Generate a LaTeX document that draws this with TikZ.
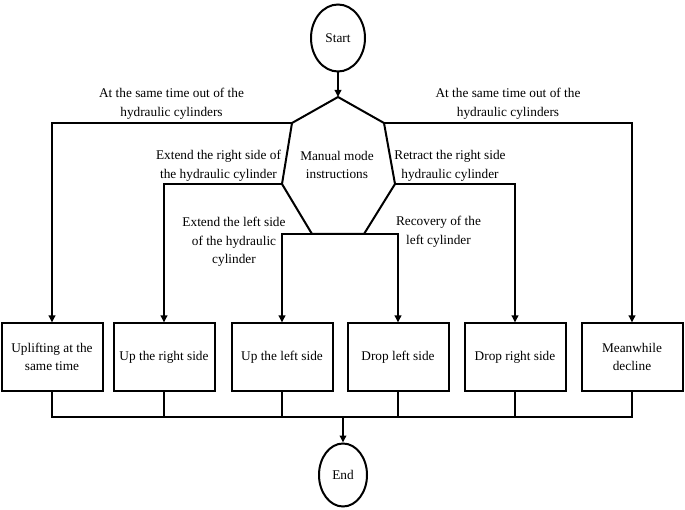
\documentclass[tikz,border=0pt]{standalone}
\usepackage{fontspec}
\setmainfont{Liberation Serif}
\usetikzlibrary{arrows.meta,shapes.geometric}
\begin{document}
\begin{tikzpicture}[x=1pt,y=-1pt,line width=2pt,
  font=\fontsize{13.3}{18.5}\selectfont,
  box/.style={draw,minimum width=101pt,minimum height=67pt,align=center,inner sep=2pt},
  term/.style={draw,ellipse,inner sep=0pt},
  lbl/.style={align=center,inner sep=0pt},
  arr/.style={-{Triangle[length=7pt,width=6.5pt]}}]
\useasboundingbox (0,0) rectangle (685,510);
% terminals
\node[term,minimum width=54pt,minimum height=67pt] (start) at (338,38) {Start};
\node[term,minimum width=48pt,minimum height=63pt] (end) at (343,475) {End};
% heptagon
\coordinate (hT) at (338,97);
\coordinate (hUL) at (292,123);
\coordinate (hUR) at (384,123);
\coordinate (hL) at (282,184);
\coordinate (hR) at (395,184);
\coordinate (hBL) at (312,234);
\coordinate (hBR) at (364,234);
\draw[line join=miter] (hT) -- (hUR) -- (hR) -- (hBR) -- (hBL) -- (hL) -- (hUL) -- cycle;
\node[lbl] (man) at (337,165) {Manual mode\\instructions};
% boxes
\node[box] (b1) at (52,357) {Uplifting at the\\same time};
\node[box] (b2) at (164,357) {Up the right side};
\node[box] (b3) at (282,357) {Up the left side};
\node[box] (b4) at (398,357) {Drop left side};
\node[box] (b5) at (515,357) {Drop right side};
\node[box] (b6) at (632,357) {Meanwhile\\decline};
% labels
\node[lbl] (l1) at (171.5,104) {At the same time out of the\\hydraulic cylinders};
\node[lbl] (l6) at (508,104) {At the same time out of the\\hydraulic cylinders};
\node[lbl] (l2) at (218.5,166) {Extend the right side of\\the hydraulic cylinder};
\node[lbl] (l5) at (450,166) {Retract the right side\\hydraulic cylinder};
\node[lbl] (l3) at (234,242) {Extend the left side\\of the hydraulic\\cylinder};
\node[lbl] (l4) at (438.5,232) {Recovery of the\\left cylinder};
% connectors
\draw[arr] (start) -- (hT);
\draw[arr] (hUL) -| (b1.north);
\draw[arr] (hUR) -| (b6.north);
\draw[arr] (hL) -| (b2.north);
\draw[arr] (hR) -| (b5.north);
\draw[arr] (hBL) -| (b3.north);
\draw[arr] (hBR) -| (b4.north);
\coordinate (m) at (343,417);
\draw (b1.south) |- (m) -| (b6.south);
\draw (b2.south) -- (b2.south |- m);
\draw (b3.south) -- (b3.south |- m);
\draw (b4.south) -- (b4.south |- m);
\draw (b5.south) -- (b5.south |- m);
\draw[arr] (m) -- (end);
\end{tikzpicture}
\end{document}
